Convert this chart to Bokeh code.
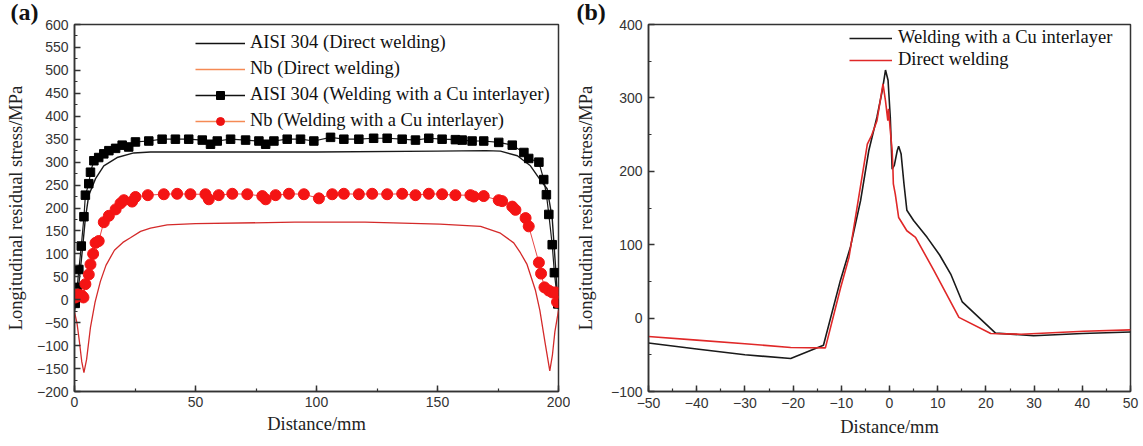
from bokeh.plotting import figure
from bokeh.layouts import row
from bokeh.models import Range1d, SingleIntervalTicker, Legend, LegendItem, Title
from bokeh.embed import file_html
from bokeh.resources import INLINE

# ---------------- Panel (a) data ----------------
aisi_direct_x = [0, 1, 1.8, 3.2, 4.5, 5.9, 8.7, 12.1, 17.6, 24.5, 31.4, 50, 100, 150, 170, 176,
                 183, 188.4, 192.6, 195.3, 197.4, 198.8, 199.7, 200]
aisi_direct_y = [-25, 10, 34, 106, 178, 228, 264, 292, 310, 320, 322, 322, 322, 324, 325, 324,
                 314, 292, 260, 242, 178, 70, -9, -20]

nb_direct_x = [0, 1, 2, 3, 3.9, 5, 6.6, 8.5, 10.7, 13, 16.5, 20, 23.1, 27.3, 31.4, 38.3, 50, 91,
               120, 151, 167.8, 176, 181.5, 184.3, 187, 190.5, 192.3, 194.5, 196.4, 197.5, 198.5, 200]
nb_direct_y = [-27, -50, -90, -135, -159, -130, -60, -5, 40, 75, 108, 125, 135, 149, 156, 163, 166, 169,
               169, 165, 160, 145, 124, 102, 77, 20, -23, -95, -155, -120, -70, -23]

aisi_cu_x = [0.3, 1.1, 1.8, 2.8, 3.9, 4.5, 5.9, 6.6, 8.0, 10.0, 12.1, 14.2, 17.0, 19.7, 22.4, 25.2,
             30.7, 36.2, 41.7, 47.2, 52.8, 56.2, 59.0, 64.5, 70.7, 76.2, 79.0, 82.4, 87.9, 93.4,
             98.9, 105.8, 111.3, 117.5, 123.6, 129.2, 135.4, 140.9, 146.4, 151.9, 157.4, 160.2,
             164.3, 169.1, 175.3, 180.9, 185.7, 187.7, 191.9, 193.9, 195.0, 196.0, 197.4, 198.3, 199.7]
aisi_cu_y = [-8, 27, 66, 117, 181, 228, 253, 278, 303, 310, 318, 325, 330, 337, 333, 344,
             346, 350, 350, 350, 348, 339, 346, 350, 348, 346, 339, 346, 350, 350,
             346, 354, 350, 350, 352, 352, 350, 348, 352, 350, 349, 348,
             346, 346, 343, 337, 321, 308, 300, 262, 229, 186, 120, 59, -9]

nb_cu_x = [0.4, 1.1, 2.5, 3.2, 3.7, 4.5, 5.9, 6.6, 7.7, 8.7, 10.0, 12.1, 14.2, 17.0, 19.0, 20.4,
           23.8, 25.2, 30.3, 36.9, 42.4, 47.9, 54.1, 55.5, 59.6, 65.2, 71.4, 77.6, 79.0, 83.1,
           88.6, 94.8, 101.0, 106.5, 111.3, 117.5, 123.0, 129.2, 135.4, 140.9, 146.4, 151.9,
           157.4, 163.6, 165.0, 169.1, 175.3, 176.7, 180.9, 182.2, 186.4, 187.7, 191.9, 192.8,
           194.2, 196.0, 197.4, 198.8, 199.4]
nb_cu_y = [5, 12, 10, 8, 5, 34, 55, 77, 100, 124, 128, 169, 183, 197, 210, 217,
           214, 224, 228, 230, 231, 230, 230, 219, 228, 231, 230, 226, 219, 228,
           231, 230, 221, 230, 231, 230, 231, 230, 231, 228, 231, 230,
           228, 228, 225, 226, 217, 215, 203, 196, 178, 160, 81, 57,
           27, 20, 16, 16, -5]

legend_a_labels = ["AISI 304 (Direct welding)", "Nb (Direct welding)",
                   "AISI 304 (Welding with a Cu interlayer)", "Nb (Welding with a Cu interlayer)"]

# ---------------- Panel (b) data ----------------
cu_x = [-50, -40, -30, -20.5, -13.7, -10.2, -8.1, -6.0, -4.3, -2.6, -1.5, -0.83, -0.3, 0.16, 0.55,
        1.0, 1.6, 1.9, 2.4, 3.0, 3.6, 5.0, 7.8, 10.4, 12.7, 15.1, 22.0, 29.9, 40, 50]
cu_y = [-34, -42, -50, -55, -37, 51, 97, 160, 228, 274, 310, 338, 324, 274, 203,
        208, 228, 234, 224, 183, 147, 133, 110, 86, 60, 22, -20.5, -24, -21, -19]

direct_x = [-50, -40, -30, -20.5, -13.3, -10.2, -8.4, -6.5, -4.6, -3.7, -2.6, -1.35, -0.83, -0.35,
            -0.2, 0.16, 0.55, 0.7, 0.8, 1.2, 1.9, 3.6, 5.4, 9.2, 14.4, 21, 27.3, 40.3, 50]
direct_y = [-25, -30, -35, -40, -40.5, 40, 83, 160, 237, 249, 269, 319, 296, 269,
            285, 256, 228, 205, 183, 169, 137, 119, 110, 65, 1, -21, -22, -18, -16]

legend_b_labels = ["Welding with a Cu interlayer", "Direct welding"]

panel_tags = ["(a)", "(b)"]

SERIF = "Liberation Serif"
SANS = "Liberation Sans"


def style_axes(p, xint, yint):
    p.xaxis.ticker = SingleIntervalTicker(interval=xint, num_minor_ticks=2)
    p.yaxis.ticker = SingleIntervalTicker(interval=yint, num_minor_ticks=2)
    for ax in (p.xaxis[0], p.yaxis[0]):
        ax.major_tick_in = 6
        ax.major_tick_out = 0
        ax.minor_tick_in = 3
        ax.minor_tick_out = 0
        ax.axis_line_width = 1.5
        ax.axis_line_color = "#333333"
        ax.major_tick_line_width = 1.5
        ax.major_tick_line_color = "#333333"
        ax.minor_tick_line_width = 1.2
        ax.minor_tick_line_color = "#333333"
        ax.major_label_text_font = SANS
        ax.major_label_text_font_size = "14px"
        ax.major_label_text_color = "#333333"
        ax.axis_label_text_font = SERIF
        ax.axis_label_text_font_size = "18.5px"
        ax.axis_label_text_font_style = "normal"
        ax.axis_label_text_color = "#222222"
    p.xaxis.major_label_standoff = 5
    p.xaxis.axis_label_standoff = 4
    p.yaxis.major_label_standoff = 6
    p.grid.visible = False
    p.outline_line_color = "#333333"
    p.outline_line_width = 1.5
    p.outline_line_alpha = 1


def panel_title(text, offset):
    return Title(text=text, align="left", offset=offset, standoff=0,
                 text_font=SERIF, text_font_size="24px", text_font_style="bold",
                 text_color="#111111")


# ---------------- Figure (a) ----------------
pa = figure(width=570, height=450, output_backend="svg", toolbar_location=None,
            x_range=Range1d(0, 200), y_range=Range1d(-200, 600),
            min_border_left=74, min_border_right=12, min_border_top=24, min_border_bottom=51,
            x_axis_label="Distance/mm", y_axis_label="Longitudinal residual stress/MPa")
style_axes(pa, 50, 50)
pa.yaxis.axis_label_standoff = 8
pa.add_layout(panel_title(panel_tags[0], -64), "above")

pa.line(aisi_direct_x, aisi_direct_y, line_color="#1a1a1a", line_width=1.4)
pa.line(nb_direct_x, nb_direct_y, line_color="#d42a2a", line_width=1.3)
pa.line(aisi_cu_x, aisi_cu_y, line_color="#1a1a1a", line_width=1.2)
pa.scatter(aisi_cu_x, aisi_cu_y, marker="square", size=8.5, fill_color="#000000", line_color="#000000")
pa.line(nb_cu_x, nb_cu_y, line_color="#e84848", line_width=1.0)
pa.scatter(nb_cu_x, nb_cu_y, marker="circle", size=11, fill_color="#f41414", line_color="#f41414")

# hidden proxy renderers that only style the legend entries (orange Nb lines, smaller markers)
la1 = pa.line(aisi_direct_x, aisi_direct_y, line_color="#111111", line_width=1.5, visible=False)
la2 = pa.line(nb_direct_x, nb_direct_y, line_color="#f58a55", line_width=1.5, visible=False)
la3l = pa.line(aisi_cu_x, aisi_cu_y, line_color="#111111", line_width=1.5, visible=False)
la3m = pa.scatter(aisi_cu_x, aisi_cu_y, marker="square", size=9, fill_color="#000000",
                  line_color="#000000", visible=False)
la4l = pa.line(nb_cu_x, nb_cu_y, line_color="#f58a55", line_width=1.5, visible=False)
la4m = pa.scatter(nb_cu_x, nb_cu_y, marker="circle", size=9, fill_color="#ee1111",
                  line_color="#ee1111", visible=False)
leg_a = Legend(items=[LegendItem(label=legend_a_labels[0], renderers=[la1]),
                      LegendItem(label=legend_a_labels[1], renderers=[la2]),
                      LegendItem(label=legend_a_labels[2], renderers=[la3l, la3m]),
                      LegendItem(label=legend_a_labels[3], renderers=[la4l, la4m])],
               location=(121, 260), padding=0, margin=0, spacing=5,
               glyph_width=50, glyph_height=20, label_height=20, label_standoff=5,
               label_text_font=SERIF, label_text_font_size="18.5px", label_text_color="#111111",
               border_line_color=None, background_fill_alpha=0, click_policy="none")
pa.add_layout(leg_a)

# ---------------- Figure (b) ----------------
pb = figure(width=573, height=450, output_backend="svg", toolbar_location=None,
            x_range=Range1d(-50, 50), y_range=Range1d(-100, 400),
            min_border_left=78, min_border_right=13, min_border_top=24, min_border_bottom=55,
            x_axis_label="Distance/mm", y_axis_label="Longitudinal residual stress/MPa")
style_axes(pb, 10, 100)
pb.xaxis.major_label_standoff = 6
pb.xaxis.axis_label_standoff = 6
pb.yaxis.axis_label_standoff = 12
pb.add_layout(panel_title(panel_tags[1], -72), "above")

rb1 = pb.line(cu_x, cu_y, line_color="#1a1a1a", line_width=1.6)
rb2 = pb.line(direct_x, direct_y, line_color="#e02828", line_width=1.6)
leg_b = Legend(items=[LegendItem(label=legend_b_labels[0], renderers=[rb1]),
                      LegendItem(label=legend_b_labels[1], renderers=[rb2])],
               location=(201, 321), padding=0, margin=0, spacing=1,
               glyph_width=43, glyph_height=20, label_height=20, label_standoff=6,
               label_text_font=SERIF, label_text_font_size="18.5px", label_text_color="#111111",
               border_line_color=None, background_fill_alpha=0)
pb.add_layout(leg_b)

layout = row(pa, pb, margin=(-4, 0, 0, 0))
open("out.html", "w").write(file_html(layout, INLINE))
